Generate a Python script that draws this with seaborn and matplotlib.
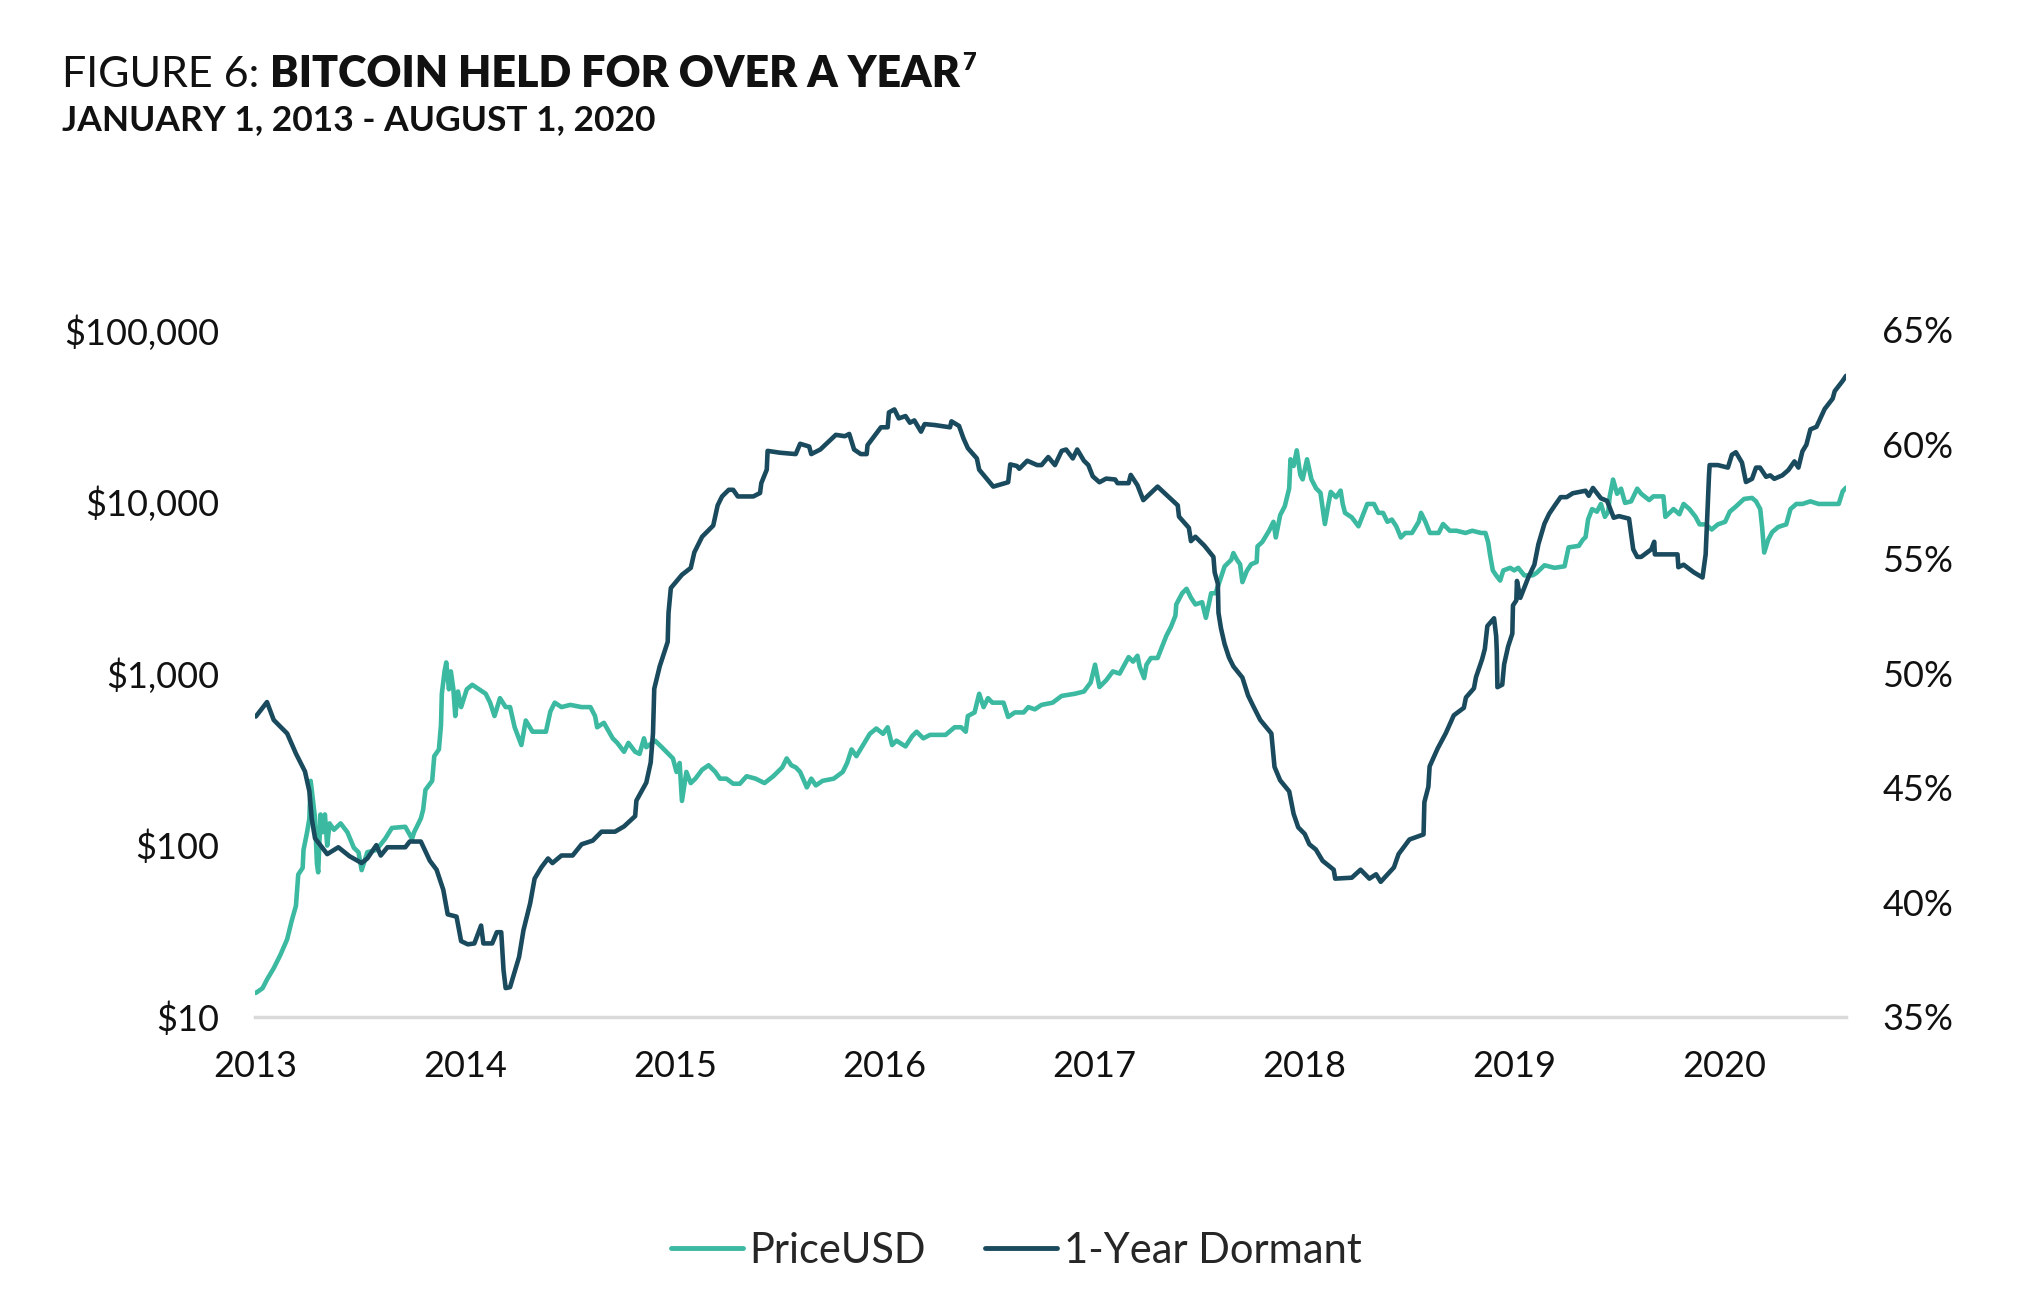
import matplotlib
matplotlib.use('Agg')
import matplotlib.pyplot as plt
from matplotlib.lines import Line2D
import seaborn as sns
import pandas as pd

# Data (decimal years)
price_year = [2013.004, 2013.036, 2013.057, 2013.089, 2013.121, 2013.153, 2013.174, 2013.195, 2013.206, 2013.227,
              2013.231, 2013.248, 2013.259, 2013.265, 2013.274, 2013.286, 2013.295, 2013.301, 2013.312, 2013.322,
              2013.333, 2013.344, 2013.355, 2013.376, 2013.408, 2013.44, 2013.471, 2013.493, 2013.508, 2013.535,
              2013.578, 2013.62, 2013.652, 2013.716, 2013.748, 2013.758, 2013.79, 2013.801, 2013.812, 2013.844,
              2013.854, 2013.876, 2013.886, 2013.89, 2013.903, 2013.911, 2013.924, 2013.933, 2013.945, 2013.954,
              2013.967, 2013.982, 2014.009, 2014.035, 2014.067, 2014.099, 2014.12, 2014.141, 2014.167, 2014.194,
              2014.215, 2014.237, 2014.269, 2014.29, 2014.322, 2014.386, 2014.407, 2014.428, 2014.46, 2014.502,
              2014.556, 2014.598, 2014.62, 2014.63, 2014.662, 2014.704, 2014.726, 2014.758, 2014.779, 2014.811,
              2014.832, 2014.853, 2014.864, 2014.906, 2014.938, 2014.97, 2014.991, 2015.008, 2015.023, 2015.034,
              2015.055, 2015.076, 2015.098, 2015.13, 2015.161, 2015.193, 2015.215, 2015.246, 2015.278, 2015.31,
              2015.342, 2015.385, 2015.427, 2015.469, 2015.512, 2015.533, 2015.555, 2015.576, 2015.597, 2015.629,
              2015.65, 2015.672, 2015.704, 2015.757, 2015.8, 2015.821, 2015.842, 2015.865, 2015.897, 2015.929,
              2015.96, 2015.992, 2016.014, 2016.035, 2016.056, 2016.099, 2016.131, 2016.152, 2016.184, 2016.216,
              2016.29, 2016.333, 2016.364, 2016.386, 2016.396, 2016.428, 2016.45, 2016.471, 2016.492, 2016.513,
              2016.566, 2016.588, 2016.62, 2016.662, 2016.684, 2016.715, 2016.747, 2016.8, 2016.843, 2016.907,
              2016.949, 2016.981, 2017.002, 2017.023, 2017.055, 2017.087, 2017.119, 2017.162, 2017.183, 2017.204,
              2017.215, 2017.236, 2017.247, 2017.268, 2017.3, 2017.321, 2017.342, 2017.364, 2017.385, 2017.389,
              2017.417, 2017.438, 2017.459, 2017.48, 2017.512, 2017.53, 2017.544, 2017.555, 2017.576, 2017.598,
              2017.619, 2017.651, 2017.661, 2017.678, 2017.693, 2017.704, 2017.725, 2017.746, 2017.772, 2017.776,
              2017.799, 2017.831, 2017.852, 2017.863, 2017.884, 2017.906, 2017.927, 2017.933, 2017.948, 2017.963,
              2017.98, 2017.991, 2018.012, 2018.033, 2018.055, 2018.076, 2018.097, 2018.112, 2018.125, 2018.15,
              2018.172, 2018.182, 2018.193, 2018.225, 2018.257, 2018.278, 2018.299, 2018.331, 2018.352, 2018.374,
              2018.395, 2018.416, 2018.437, 2018.459, 2018.48, 2018.512, 2018.544, 2018.555, 2018.576, 2018.597,
              2018.639, 2018.66, 2018.692, 2018.724, 2018.767, 2018.799, 2018.841, 2018.862, 2018.875, 2018.884,
              2018.897, 2018.913, 2018.932, 2018.947, 2018.98, 2018.999, 2019.018, 2019.047, 2019.086, 2019.105,
              2019.143, 2019.191, 2019.239, 2019.258, 2019.307, 2019.326, 2019.339, 2019.351, 2019.37, 2019.393,
              2019.412, 2019.431, 2019.447, 2019.454, 2019.47, 2019.489, 2019.508, 2019.527, 2019.556, 2019.585,
              2019.604, 2019.642, 2019.662, 2019.71, 2019.719, 2019.758, 2019.786, 2019.806, 2019.834, 2019.863,
              2019.882, 2019.911, 2019.94, 2019.969, 2020.004, 2020.026, 2020.055, 2020.094, 2020.132, 2020.151,
              2020.171, 2020.18, 2020.19, 2020.209, 2020.228, 2020.257, 2020.295, 2020.315, 2020.343, 2020.372,
              2020.41, 2020.449, 2020.545, 2020.564, 2020.58]
price_usd = [13.8, 14.7, 16.5, 19.2, 23, 28.3, 36, 44.4, 67.5, 73.8,
             93.8, 119, 143, 237, 192, 143, 78, 69.5, 151, 119,
             151, 99.5, 134, 123, 134, 119, 96.6, 91, 71.6, 91,
             93.8, 109, 126, 128, 109, 119, 143, 161, 210, 237,
             330, 361, 501, 762, 1028, 1159, 809, 1028, 809, 565,
             785, 637, 809, 859, 809, 762, 676, 565, 718, 637,
             637, 486, 383, 532, 458, 458, 600, 676, 637, 656,
             637, 637, 565, 486, 516, 419, 394, 350, 394, 350,
             340, 419, 372, 406, 372, 340, 320, 267, 301, 181,
             267, 230, 244, 275, 292, 267, 244, 244, 228, 228,
             252, 244, 230, 252, 284, 320, 292, 284, 267, 217,
             244, 223, 237, 244, 267, 301, 361, 330, 383, 445,
             478, 445, 486, 383, 406, 376, 432, 458, 419, 439,
             439, 486, 486, 458, 565, 593, 762, 637, 718, 676,
             676, 558, 593, 593, 637, 618, 656, 676, 740, 762,
             785, 885, 1125, 834, 912, 1028, 998, 1245, 1172, 1268,
             1091, 940, 1125, 1230, 1230, 1429, 1660, 1871, 2173, 2523,
             2931, 3112, 2761, 2523, 2600, 2109, 2523, 2931, 2931, 3508,
             4198, 4592, 5023, 4592, 4325, 3404, 3954, 4325, 4457, 5495,
             5834, 6776, 7638, 6194, 8356, 9419, 11967, 17660, 16140, 19910,
             14320, 13490, 17660, 13490, 11970, 11270, 7413, 9419, 11400, 10620,
             11610, 9705, 8610, 8110, 7194, 8356, 9705, 9705, 8610, 8610,
             7638, 7870, 7194, 6194, 6577, 6577, 7638, 8610, 7638, 6577,
             6577, 7413, 6776, 6776, 6577, 6776, 6577, 6577, 5808, 4898,
             3981, 3724, 3475, 3981, 4121, 3981, 4121, 3724, 3724, 3846,
             4266, 4121, 4207, 5420, 5534, 6012, 6223, 7889, 9057, 8750,
             9705, 8166, 8750, 10740, 13460, 11120, 11910, 9840, 10050, 11910,
             11120, 10230, 10740, 10740, 8166, 9057, 8453, 9705, 9057, 8166,
             7379, 7379, 6887, 7379, 7638, 8750, 9376, 10380, 10520, 10050,
             9057, 7129, 5058, 6012, 6653, 7129, 7379, 9057, 9705, 9705,
             10050, 9705, 9705, 11510, 12080]

dormant_year = [2013.004, 2013.057, 2013.089, 2013.153, 2013.195, 2013.238, 2013.259, 2013.27, 2013.286, 2013.344,
                2013.397, 2013.45, 2013.508, 2013.535, 2013.578, 2013.599, 2013.631, 2013.716, 2013.737, 2013.79,
                2013.833, 2013.865, 2013.897, 2013.918, 2013.96, 2013.982, 2014.014, 2014.045, 2014.077, 2014.088,
                2014.13, 2014.152, 2014.173, 2014.184, 2014.194, 2014.215, 2014.258, 2014.279, 2014.311, 2014.332,
                2014.364, 2014.396, 2014.417, 2014.46, 2014.513, 2014.556, 2014.609, 2014.651, 2014.715, 2014.758,
                2014.811, 2014.817, 2014.864, 2014.885, 2014.896, 2014.902, 2014.928, 2014.966, 2014.97, 2014.981,
                2015.034, 2015.076, 2015.093, 2015.13, 2015.183, 2015.204, 2015.225, 2015.257, 2015.278, 2015.3,
                2015.374, 2015.406, 2015.412, 2015.438, 2015.442, 2015.501, 2015.576, 2015.597, 2015.64, 2015.65,
                2015.693, 2015.767, 2015.81, 2015.831, 2015.854, 2015.886, 2015.914, 2015.918, 2015.95, 2015.982,
                2016.014, 2016.02, 2016.046, 2016.067, 2016.099, 2016.12, 2016.141, 2016.173, 2016.19, 2016.237,
                2016.311, 2016.318, 2016.354, 2016.375, 2016.396, 2016.439, 2016.45, 2016.517, 2016.588, 2016.598,
                2016.63, 2016.641, 2016.679, 2016.726, 2016.747, 2016.779, 2016.811, 2016.843, 2016.864, 2016.896,
                2016.917, 2016.949, 2016.97, 2016.991, 2017.023, 2017.055, 2017.098, 2017.109, 2017.162, 2017.172,
                2017.204, 2017.232, 2017.3, 2017.396, 2017.402, 2017.449, 2017.459, 2017.48, 2017.523, 2017.566,
                2017.572, 2017.587, 2017.59, 2017.602, 2017.619, 2017.64, 2017.661, 2017.704, 2017.731, 2017.757,
                2017.789, 2017.842, 2017.857, 2017.884, 2017.927, 2017.948, 2017.97, 2018.001, 2018.023, 2018.054,
                2018.086, 2018.139, 2018.146, 2018.225, 2018.267, 2018.309, 2018.341, 2018.363, 2018.426, 2018.448,
                2018.5, 2018.567, 2018.571, 2018.59, 2018.596, 2018.634, 2018.673, 2018.711, 2018.759, 2018.769,
                2018.807, 2018.817, 2018.846, 2018.859, 2018.871, 2018.903, 2018.913, 2018.916, 2018.919, 2018.942,
                2018.951, 2018.97, 2018.99, 2018.993, 2019.009, 2019.012, 2019.028, 2019.047, 2019.066, 2019.095,
                2019.114, 2019.143, 2019.166, 2019.191, 2019.22, 2019.249, 2019.278, 2019.339, 2019.354, 2019.374,
                2019.412, 2019.441, 2019.454, 2019.473, 2019.498, 2019.546, 2019.566, 2019.585, 2019.604, 2019.652,
                2019.666, 2019.669, 2019.777, 2019.781, 2019.806, 2019.854, 2019.896, 2019.911, 2019.927, 2019.93,
                2019.969, 2020.017, 2020.036, 2020.055, 2020.084, 2020.103, 2020.132, 2020.151, 2020.17, 2020.199,
                2020.219, 2020.238, 2020.276, 2020.305, 2020.334, 2020.353, 2020.372, 2020.391, 2020.41, 2020.439,
                2020.478, 2020.516, 2020.526, 2020.564, 2020.58]
dormant_pct = [48.12, 48.75, 47.97, 47.38, 46.5, 45.72, 44.85, 43.67, 42.8, 42.11,
               42.41, 42.02, 41.72, 41.92, 42.5, 42.05, 42.41, 42.41, 42.66, 42.66,
               41.82, 41.43, 40.55, 39.48, 39.38, 38.31, 38.17, 38.21, 38.99, 38.21,
               38.21, 38.7, 38.7, 37.04, 36.26, 36.3, 37.62, 38.79, 39.97, 41.04,
               41.53, 41.92, 41.72, 42.05, 42.05, 42.54, 42.7, 43.09, 43.09, 43.32,
               43.77, 44.45, 45.23, 46.11, 47.38, 49.33, 50.31, 51.38, 52.65, 53.73,
               54.31, 54.61, 55.29, 55.97, 56.46, 57.34, 57.73, 58.02, 58.02, 57.73,
               57.73, 57.88, 58.31, 58.9, 59.72, 59.64, 59.58, 60.03, 59.91, 59.58,
               59.78, 60.42, 60.36, 60.46, 59.78, 59.58, 59.58, 59.97, 60.36, 60.75,
               60.75, 61.4, 61.53, 61.14, 61.24, 60.95, 61.05, 60.56, 60.89, 60.85,
               60.75, 61.01, 60.81, 60.27, 59.84, 59.39, 58.9, 58.16, 58.35, 59.13,
               59.06, 58.94, 59.29, 59.1, 59.1, 59.45, 59.1, 59.72, 59.78, 59.39,
               59.78, 59.29, 59.1, 58.61, 58.35, 58.51, 58.47, 58.31, 58.31, 58.67,
               58.22, 57.57, 58.16, 57.34, 56.85, 56.36, 55.78, 55.97, 55.58, 55.09,
               54.41, 53.92, 52.65, 51.97, 51.29, 50.7, 50.31, 49.82, 49.04, 48.55,
               47.97, 47.38, 45.92, 45.33, 44.85, 43.87, 43.28, 42.99, 42.54, 42.31,
               41.82, 41.43, 41.04, 41.08, 41.43, 41.04, 41.23, 40.9, 41.53, 42.11,
               42.75, 42.97, 44.38, 45.05, 45.94, 46.72, 47.39, 48.17, 48.5, 48.95,
               49.35, 49.84, 50.62, 51.07, 52.07, 52.41, 51.63, 50.96, 49.4, 49.51,
               50.4, 51.18, 51.74, 52.97, 53.19, 54.04, 53.3, 53.75, 54.19, 54.75,
               55.64, 56.54, 56.98, 57.32, 57.7, 57.7, 57.87, 57.98, 57.76, 58.1,
               57.65, 57.54, 57.25, 56.8, 56.87, 56.76, 55.42, 55.09, 55.09, 55.42,
               55.75, 55.2, 55.2, 54.64, 54.75, 54.42, 54.19, 55.2, 58.65, 59.1,
               59.1, 58.99, 59.55, 59.66, 59.21, 58.36, 58.5, 58.99, 58.99, 58.59,
               58.65, 58.5, 58.65, 58.88, 59.26, 58.99, 59.7, 59.99, 60.66, 60.77,
               61.55, 62.0, 62.33, 62.78, 63.0]

year_ticks = [2013, 2014, 2015, 2016, 2017, 2018, 2019, 2020]
price_ticks = [10, 100, 1000, 10000, 100000]
price_labels = ['$10', '$100', '$1,000', '$10,000', '$100,000']
pct_ticks = [35, 40, 45, 50, 55, 60, 65]
pct_labels = ['35%', '40%', '45%', '50%', '55%', '60%', '65%']

teal = '#3CB9A1'
navy = '#1A4A5D'

sns.set_style('white')
plt.rcParams['font.family'] = ['Lato', 'DejaVu Sans']

price = pd.DataFrame({'year': price_year, 'price': price_usd})
dormant = pd.DataFrame({'year': dormant_year, 'pct': dormant_pct})

fig = plt.figure(figsize=(20.32, 12.92), dpi=100)
ax = fig.add_axes([0.1255, 0.2129, 0.783, 0.5317])
ax2 = ax.twinx()

sns.lineplot(data=price, x='year', y='price', ax=ax, color=teal, linewidth=3.3, zorder=3)
sns.lineplot(data=dormant, x='year', y='pct', ax=ax2, color=navy, linewidth=3.3, zorder=3)

ax.set_yscale('log')
ax.set_ylim(10, 100000)
ax.set_yticks(price_ticks)
ax.set_yticklabels(price_labels)
ax.minorticks_off()
ax.set_xlim(2013.0, 2020.58)
ax.set_xticks(year_ticks)
ax.set_xticklabels([str(y) for y in year_ticks])
ax2.set_ylim(35, 65)
ax2.set_yticks(pct_ticks)
ax2.set_yticklabels(pct_labels)

for a in (ax, ax2):
    a.set_xlabel('')
    a.set_ylabel('')
    for s in a.spines.values():
        s.set_visible(False)
    a.grid(False)
ax.spines['bottom'].set_visible(True)
ax.spines['bottom'].set_color('#DADADA')
ax.spines['bottom'].set_linewidth(2.5)

ax.tick_params(axis='y', length=0, pad=26, labelsize=26, labelcolor='#111111')
ax.tick_params(axis='x', length=0, pad=24, labelsize=26, labelcolor='#111111')
ax2.tick_params(axis='y', length=0, pad=26, labelsize=26, labelcolor='#111111')

# title: regular + bold + superscript
r = fig.canvas.get_renderer()
t1 = fig.text(0.0305, 0.933, 'FIGURE 6: ', fontsize=31, va='baseline', color='#111111')
bb = t1.get_window_extent(r)
x2 = bb.x1 / fig.bbox.width
t2 = fig.text(x2, 0.933, 'BITCOIN HELD FOR OVER A YEAR', fontsize=31, fontweight='heavy',
              va='baseline', color='#111111')
bb2 = t2.get_window_extent(r)
fig.text(bb2.x1 / fig.bbox.width + 0.001, 0.946, '7', fontsize=17, fontweight='heavy',
         va='baseline', color='#111111')
fig.text(0.0305, 0.8995, 'JANUARY 1, 2013 - AUGUST 1, 2020', fontsize=25.5, fontweight='bold',
         va='baseline', color='#111111')

handles = [Line2D([0], [0], color=teal, lw=3.5, solid_capstyle='round'),
           Line2D([0], [0], color=navy, lw=3.5, solid_capstyle='round')]
fig.legend(handles, ['PriceUSD', '1-Year Dormant'], loc='center', bbox_to_anchor=(0.5, 0.032),
           ncol=2, frameon=False, fontsize=30, handlelength=1.75, handletextpad=0.15,
           columnspacing=1.4)

fig.savefig('out.png', dpi=100, facecolor='white')
